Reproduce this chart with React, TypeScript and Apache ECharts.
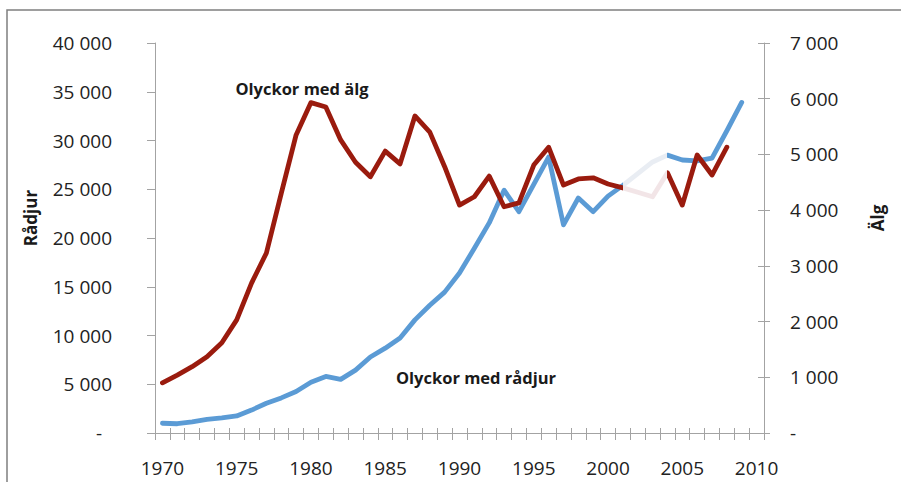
import React, { useEffect, useRef } from "react";
import * as echarts from "echarts";

const years = [
  "1970", "1971", "1972", "1973", "1974", "1975", "1976", "1977", "1978", "1979",
  "1980", "1981", "1982", "1983", "1984", "1985", "1986", "1987", "1988", "1989",
  "1990", "1991", "1992", "1993", "1994", "1995", "1996", "1997", "1998", "1999",
  "2000", "2001", "2002", "2003", "2004", "2005", "2006", "2007", "2008", "2009",
  "2010",
];

// Olyckor med rådjur (left axis)
const radjur = [
  1000, 950, 1150, 1400, 1550, 1750, 2350, 3050, 3600, 4250,
  5200, 5800, 5500, 6450, 7800, 8700, 9750, 11600, 13100, 14450,
  16400, 18950, 21550, 24900, 22700, 25500, 28300, 21350, 24100, 22700,
  24300, 25400, 26600, 27800, 28500, 28000, 27900, 28200, 31000, 33900,
  null,
];

// Olyckor med älg (right axis)
const alg = [
  900, 1040, 1190, 1370, 1620, 2030, 2690, 3230, 4300, 5350,
  5930, 5850, 5260, 4860, 4600, 5060, 4830, 5690, 5400, 4780,
  4090, 4240, 4610, 4060, 4130, 4810, 5130, 4450, 4560, 4580,
  4470, 4400, 4320, 4240, 4670, 4090, 4990, 4630, 5130, null,
  null,
];

const leftTicks = { min: 0, max: 40000, interval: 5000 };
const rightTicks = { min: 0, max: 7000, interval: 1000 };

const BLUE = "#5b9bd5";
const BLUE_FADE = "#e9edf3";
const RED = "#9a1b0e";
const RED_FADE = "#f2e5e7";
const AXIS = "#a3a3a3";
const TEXT = "#222222";
const FONT = "'Open Sans', sans-serif";

function fmt(v: number, left: boolean) {
  if (v === 0) return left ? "-\u00a0\u00a0" : "-";
  return String(v).replace(/\B(?=(\d{3})+(?!\d))/g, " ");
}

export default function App() {
  const ref = useRef<HTMLDivElement>(null);
  useEffect(() => {
    document.body.style.margin = "0";
    const chart = echarts.init(ref.current!, null, { renderer: "svg" });
    const labelStyle = { color: TEXT, fontFamily: FONT, fontSize: 19 };
    chart.setOption({
      animation: false,
      backgroundColor: "#ffffff",
      grid: { left: 155, right: 137, top: 43, bottom: 49, containLabel: false },
      xAxis: [
        {
          type: "category",
          data: years,
          boundaryGap: true,
          axisLine: { lineStyle: { color: AXIS, width: 1 } },
          axisTick: { show: true, interval: 0, length: 7, lineStyle: { color: AXIS } },
          axisLabel: { ...labelStyle, interval: 4, margin: 25 },
          splitLine: { show: false },
        },
        {
          type: "category",
          data: years,
          boundaryGap: true,
          position: "bottom",
          axisLine: { show: false },
          axisTick: { show: true, inside: true, interval: 0, length: 5, lineStyle: { color: AXIS } },
          axisLabel: { show: false },
          splitLine: { show: false },
        },
      ],
      yAxis: [
        {
          type: "value",
          position: "left",
          ...leftTicks,
          axisLine: { show: true, lineStyle: { color: AXIS, width: 1 } },
          axisTick: { show: true, length: 8, lineStyle: { color: AXIS } },
          axisLabel: { ...labelStyle, margin: 43, formatter: (v: number) => fmt(v, true) },
          splitLine: { show: false },
        },
        {
          type: "value",
          position: "right",
          ...rightTicks,
          axisLine: { show: true, lineStyle: { color: AXIS, width: 1 } },
          axisTick: { show: true, length: 6, lineStyle: { color: AXIS } },
          axisLabel: { ...labelStyle, margin: 26, formatter: (v: number) => fmt(v, false) },
          splitLine: { show: false },
        },
        {
          type: "value",
          position: "right",
          ...rightTicks,
          axisLine: { show: false },
          axisTick: { show: true, inside: true, length: 6, lineStyle: { color: AXIS } },
          axisLabel: { show: false },
          splitLine: { show: false },
        },
      ],
      visualMap: [
        {
          type: "piecewise",
          show: false,
          seriesIndex: 0,
          dimension: 0,
          pieces: [
            { lt: 30.6, color: BLUE },
            { gte: 30.6, lt: 33.63, color: BLUE_FADE },
            { gte: 33.63, color: BLUE },
          ],
        },
        {
          type: "piecewise",
          show: false,
          seriesIndex: 1,
          dimension: 0,
          pieces: [
            { lt: 30.6, color: RED },
            { gte: 30.6, lt: 33.63, color: RED_FADE },
            { gte: 33.63, color: RED },
          ],
        },
      ],
      series: [
        {
          name: "Olyckor med rådjur",
          type: "line",
          xAxisIndex: 0,
          yAxisIndex: 0,
          data: radjur,
          symbol: "none",
          smooth: false,
          lineStyle: { width: 4.8, cap: "round", join: "round" },
          z: 2,
        },
        {
          name: "Olyckor med älg",
          type: "line",
          xAxisIndex: 0,
          yAxisIndex: 1,
          data: alg,
          symbol: "none",
          smooth: false,
          lineStyle: { width: 4.8, cap: "round", join: "round" },
          z: 3,
        },
      ],
      graphic: [
        {
          type: "rect",
          silent: true,
          shape: { x: 7, y: 10, width: 1000, height: 1000 },
          style: { fill: "none", stroke: "#7f7f7f", lineWidth: 1.5 },
        },
        {
          type: "text",
          x: 302,
          y: 88,
          style: {
            text: "Olyckor med älg",
            fill: "#1a1a1a",
            font: `bold 16.5px ${FONT}`,
            textAlign: "center",
            textVerticalAlign: "middle",
          },
        },
        {
          type: "text",
          x: 476,
          y: 377,
          style: {
            text: "Olyckor med rådjur",
            fill: "#1a1a1a",
            font: `bold 16.5px ${FONT}`,
            textAlign: "center",
            textVerticalAlign: "middle",
          },
        },
        {
          type: "text",
          x: 30,
          y: 218,
          rotation: Math.PI / 2,
          style: {
            text: "Rådjur",
            fill: "#1a1a1a",
            font: `bold 17px ${FONT}`,
            textAlign: "center",
            textVerticalAlign: "middle",
          },
        },
        {
          type: "text",
          x: 877,
          y: 218,
          rotation: Math.PI / 2,
          style: {
            text: "Älg",
            fill: "#1a1a1a",
            font: `bold 17px ${FONT}`,
            textAlign: "center",
            textVerticalAlign: "middle",
          },
        },
      ],
    });
    return () => chart.dispose();
  }, []);
  return <div ref={ref} style={{ width: 901, height: 482 }} />;
}
